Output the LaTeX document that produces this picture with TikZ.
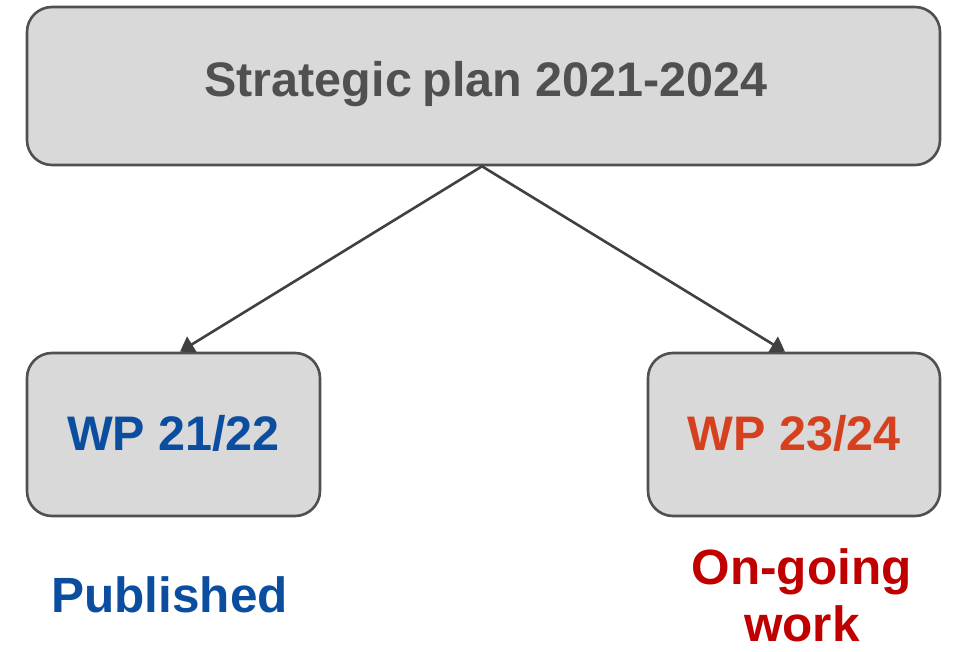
\documentclass[tikz,border=0pt]{standalone}
\usepackage{fontspec}
\setmainfont{Liberation Sans}
\usetikzlibrary{arrows.meta,calc}
\definecolor{boxfill}{HTML}{D9D9D9}
\definecolor{boxline}{HTML}{505050}
\definecolor{titlegray}{HTML}{505050}
\definecolor{wpblue}{HTML}{0B4EA0}
\definecolor{wporange}{HTML}{D5401E}
\definecolor{darkred}{HTML}{C00000}
\definecolor{arrowgray}{HTML}{404040}
\tikzset{
  box/.style={draw=boxline, line width=2.6pt, fill=boxfill, rounded corners=25pt, inner sep=0pt},
  lbl/.style={font=\bfseries\fontsize{48.5}{50}\selectfont, anchor=base, inner sep=0pt},
  conn/.style={draw=arrowgray, line width=2.6pt, -{Triangle[width=18pt,length=14pt]}},
}
\begin{document}
\begin{tikzpicture}[x=1pt,y=1pt]
\useasboundingbox (0,0) rectangle (953,651);
\node[box, minimum width=913pt, minimum height=158pt] (top) at (483.5,565) {};
\node[box, minimum width=293pt, minimum height=163pt] (left) at (173.5,216.5) {};
\node[box, minimum width=292pt, minimum height=163pt] (right) at (794,216.5) {};
\node[lbl, text=titlegray] (ttl) at (486,554) {Strategic\hspace{-3pt} plan 2021-2024};
\node[lbl, text=wpblue, font=\bfseries\fontsize{48.5}{50}\selectfont] (wpl) at (173.5,200) {WP 21/22};
\node[lbl, text=wporange, font=\bfseries\fontsize{48.5}{50}\selectfont] (wpr) at (794,200) {WP 23/24};
\node[lbl, text=wpblue, font=\bfseries\fontsize{49.5}{50}\selectfont] (pub) at (169.5,39) {Published};
\node[lbl, text=darkred, font=\bfseries\fontsize{49.5}{50}\selectfont] (ong) at (801.5,67) {On-going};
\node[lbl, text=darkred, font=\bfseries\fontsize{49.5}{50}\selectfont] (wrk) at (802,10) {work};
\draw[conn] ([xshift=-1.5pt]top.south) -- ([xshift=6.5pt]left.north);
\draw[conn] ([xshift=-1.5pt]top.south) -- ([xshift=-9pt]right.north);
\end{tikzpicture}
\end{document}
